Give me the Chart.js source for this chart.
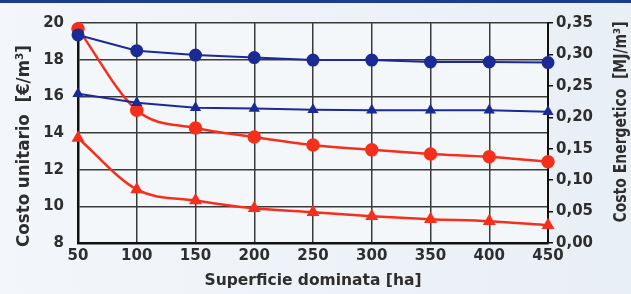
<!DOCTYPE html>
<html>
<head>
<meta charset="utf-8">
<script src="https://cdn.jsdelivr.net/npm/chart.js@4/dist/chart.umd.min.js"></script>
<style>
  html, body { margin: 0; padding: 0; }
  body { width: 631px; height: 294px; background: linear-gradient(90deg, #f3f6fa 0%, #e9eff6 100%); overflow: hidden; position: relative; }
  #topbar { position: absolute; left: 0; top: 0; width: 631px; height: 3px; background: #1c3d8c; z-index: 2; }
  #wrap { position: absolute; left: 0; top: 0; width: 631px; height: 294px; }
</style>
</head>
<body>
<div id="topbar"></div>
<div id="wrap"><canvas id="chart"></canvas></div>
<script>
// --- Data ---
const superficie = [50, 100, 150, 200, 250, 300, 350, 400, 450];

// Costo unitario [€/m3] (left axis)
const costoCerchi = [19.68, 15.24, 14.27, 13.78, 13.35, 13.08, 12.86, 12.70, 12.43];
const costoTriangoli = [13.73, 10.92, 10.32, 9.89, 9.68, 9.46, 9.30, 9.19, 8.97];

// Costo energetico [MJ/m3] (right axis)
const energiaCerchi = [0.331, 0.306, 0.299, 0.295, 0.291, 0.291, 0.288, 0.288, 0.287];
const energiaTriangoli = [0.2375, 0.223, 0.215, 0.214, 0.212, 0.211, 0.211, 0.211, 0.209];

const leftTicks = [8, 10, 12, 14, 16, 18, 20];
const rightTicks = [0, 0.05, 0.10, 0.15, 0.20, 0.25, 0.30, 0.35];

const leftTitle = 'Costo unitario  [€/m³]';
const rightTitle = 'Costo Energetico  [MJ/m³]';

const RED = '#f4301c';
const BLUE = '#1b2a94';
const TEXT = '#2e2e2e';
const FONT = "'DejaVu Sans', 'Open Sans', sans-serif";
const TITLE_FONT = "'DejaVu Sans Condensed', 'Liberation Sans Narrow', 'DejaVu Sans', sans-serif";

const toXY = (vals) => vals.map((v, i) => ({ x: superficie[i], y: v }));

const ctx = document.getElementById('chart').getContext('2d');

// light plot area background
const plotBg = {
  id: 'plotBg',
  beforeDraw(chart) {
    const { ctx, chartArea: a } = chart;
    ctx.save();
    ctx.fillStyle = '#f4f7fa';
    ctx.fillRect(a.left, a.top, a.right - a.left, a.bottom - a.top);
    ctx.restore();
  }
};

// both y titles read bottom-to-top, as in the reference
const sideTitles = {
  id: 'sideTitles',
  afterDraw(chart) {
    const c = chart.ctx;
    const draw = (text, x, y, size, maxLen) => {
      c.save();
      c.translate(x, y);
      c.rotate(-Math.PI / 2);
      c.font = `bold ${size}px ${TITLE_FONT}`;
      c.fillStyle = TEXT;
      c.textAlign = 'center';
      c.textBaseline = 'middle';
      c.fillText(text, 0, 0, maxLen);
      c.restore();
    };
    draw(leftTitle, 24, 146, 18.5, 212);
    draw(rightTitle, 621, 122, 17.5, 201);
  }
};

new Chart(ctx, {
  type: 'line',
  data: {
    datasets: [
      { label: 'Costo energetico (cerchi)', data: toXY(energiaCerchi), yAxisID: 'y1', borderColor: BLUE, backgroundColor: BLUE, borderWidth: 2, pointStyle: 'circle', pointRadius: 5.5, tension: 0 },
      { label: 'Costo energetico (triangoli)', data: toXY(energiaTriangoli), yAxisID: 'y1', borderColor: BLUE, backgroundColor: BLUE, borderWidth: 2, pointStyle: 'triangle', pointRadius: 4.5, tension: 0 },
      { label: 'Costo unitario (cerchi)', data: toXY(costoCerchi), yAxisID: 'y', borderColor: RED, backgroundColor: RED, borderWidth: 2.5, pointStyle: 'circle', pointRadius: 5.5, cubicInterpolationMode: 'monotone' },
      { label: 'Costo unitario (triangoli)', data: toXY(costoTriangoli), yAxisID: 'y', borderColor: RED, backgroundColor: RED, borderWidth: 2.5, pointStyle: 'triangle', pointRadius: 5, cubicInterpolationMode: 'monotone' },
    ]
  },
  options: {
    responsive: true,
    maintainAspectRatio: false,
    animation: false,
    clip: false,
    layout: { padding: { top: 21, left: 0, right: 0, bottom: 0 } },
    plugins: { legend: { display: false }, tooltip: { enabled: false } },
    scales: {
      x: {
        type: 'linear', min: 50, max: 450,
        afterFit: (s) => { s.height = 51; },
        ticks: { stepSize: 50, color: TEXT, font: { family: FONT, size: 15, weight: 'bold' }, padding: 4 },
        grid: { color: '#3a3a3a', lineWidth: 1.5, drawTicks: false },
        border: { color: '#111', width: 2.5 },
        title: { display: true, text: 'Superficie dominata [ha]', color: TEXT, font: { family: FONT, size: 15.5, weight: 'bold' }, padding: { top: 9 } }
      },
      y: {
        position: 'left', min: 8, max: 20,
        afterFit: (s) => { s.width = 78; },
        afterBuildTicks: (s) => { s.ticks = leftTicks.map(v => ({ value: v })); },
        ticks: { color: TEXT, font: { family: FONT, size: 15, weight: 'bold' }, padding: 14 },
        grid: { color: '#3a3a3a', lineWidth: 1.5, drawTicks: false },
        border: { color: '#111', width: 2.5 }
      },
      y1: {
        position: 'right', min: 0, max: 0.35,
        afterFit: (s) => { s.width = 83; },
        afterBuildTicks: (s) => { s.ticks = rightTicks.map(v => ({ value: v })); },
        ticks: { color: TEXT, font: { family: FONT, size: 15, weight: 'bold' }, padding: 3, callback: (v) => v.toFixed(2).replace('.', ',') },
        grid: { drawOnChartArea: false, color: '#111', lineWidth: 1.5, tickLength: 5 },
        border: { color: '#111', width: 2 }
      }
    }
  },
  plugins: [plotBg, sideTitles]
});
</script>
</body>
</html>
